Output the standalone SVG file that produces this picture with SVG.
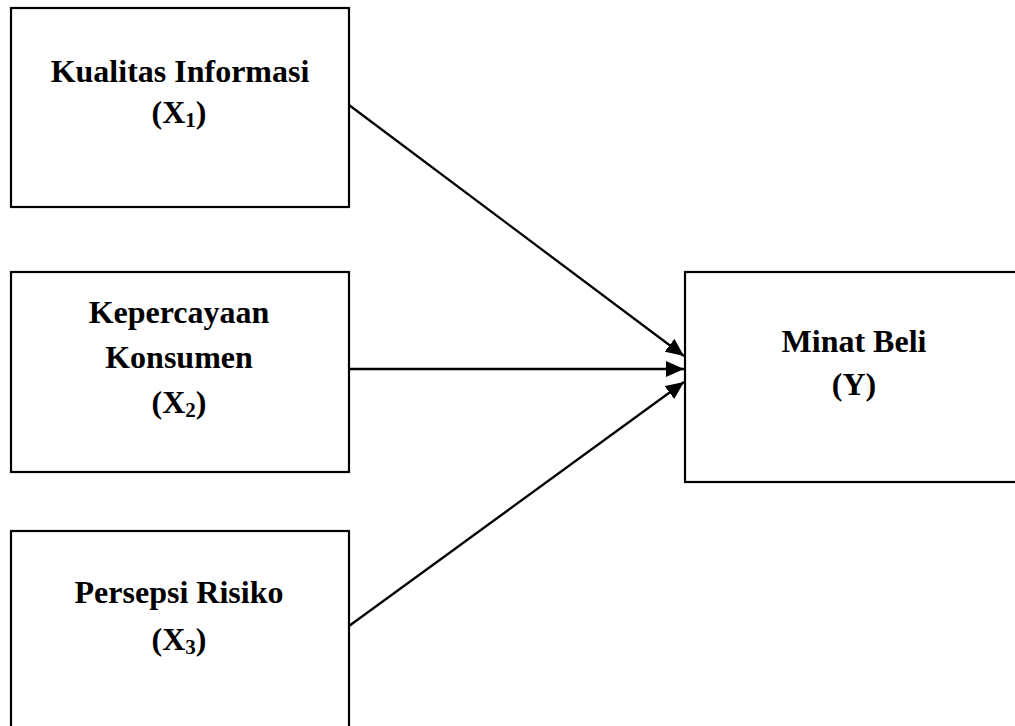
<svg xmlns="http://www.w3.org/2000/svg" width="1015" height="726" viewBox="0 0 1015 726">
<style>
.box{fill:#fff;stroke:#000;stroke-width:2.2}
.t{font-family:"Liberation Serif","Times New Roman",serif;font-weight:bold;font-size:32px;fill:#000;text-anchor:middle}
.sub{font-size:21px}
.c{stroke:#000;stroke-width:2.3;fill:none}
</style>
<defs>
<marker id="ah" markerUnits="userSpaceOnUse" markerWidth="20" markerHeight="16" refX="18" refY="8" orient="auto">
<path d="M0,0 L18,8 L0,16 Z" fill="#000"/>
</marker>
</defs>
<rect width="1015" height="726" fill="#fff"/>
<g id="x1">
<rect class="box" x="11" y="8" width="338" height="199"/>
<text class="t" x="180" y="82">Kualitas Informasi</text>
<text class="t" x="179" y="123">(X<tspan class="sub" dy="4">1</tspan><tspan dy="-4">)</tspan></text>
</g>
<g id="x2">
<rect class="box" x="11" y="272" width="338" height="200"/>
<text class="t" x="179" y="323">Kepercayaan</text>
<text class="t" x="179" y="368">Konsumen</text>
<text class="t" x="179" y="413">(X<tspan class="sub" dy="4">2</tspan><tspan dy="-4">)</tspan></text>
</g>
<g id="x3">
<rect class="box" x="11" y="531" width="338" height="200"/>
<text class="t" x="179" y="603">Persepsi Risiko</text>
<text class="t" x="179" y="650">(X<tspan class="sub" dy="4">3</tspan><tspan dy="-4">)</tspan></text>
</g>
<g id="y">
<rect class="box" x="685" y="272" width="340" height="210"/>
<text class="t" x="854" y="352">Minat Beli</text>
<text class="t" x="854" y="395">(Y)</text>
</g>
<g id="connectors">
<line class="c" x1="349" y1="105" x2="684" y2="356" marker-end="url(#ah)"/>
<line class="c" x1="349" y1="369" x2="684" y2="369" marker-end="url(#ah)"/>
<line class="c" x1="349" y1="626" x2="684" y2="382" marker-end="url(#ah)"/>
</g>
</svg>
